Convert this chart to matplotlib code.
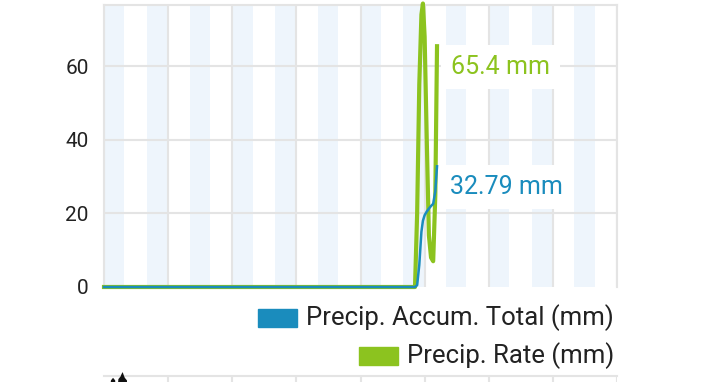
import matplotlib
matplotlib.use("Agg")
import matplotlib.pyplot as plt
from matplotlib.patches import Rectangle

plt.rcParams['font.family'] = ['Roboto', 'DejaVu Sans']

# ---- data (hours of day) ----
hours = [0, 14.5, 14.55, 14.65, 14.75, 14.85, 14.92, 15.0, 15.1, 15.2, 15.3, 15.4, 15.5, 15.58]
precip_rate = [0, 0, 0, 20, 55, 74, 77, 68, 40, 14, 8, 7, 25, 65.4]
precip_total = [0, 0, 0, 0.5, 6, 15, 18, 19.5, 20.5, 21.3, 22, 22.6, 26, 32.79]

y_ticks = [0, 20, 40, 60]
series_labels = ["Precip. Accum. Total (mm)", "Precip. Rate (mm)"]
end_labels = ["32.79 mm", "65.4 mm"]

# sliver of the next chart (only its top edge is visible)
next_hours = [0.2, 0.3, 0.4, 0.5, 0.55, 0.65, 0.75, 0.8, 0.85, 0.9, 0.95, 1.05, 1.1]
next_values = [0.0, 0.85, 0.95, 0.85, 0.0, 0.9, 1.0, 1.1, 1.17, 1.05, 0.95, 0.85, 0.0]

BLUE = "#1a8cbd"
GREEN = "#8cc31f"
GRID = "#e4e4e4"
BAND = "#eef5fc"

W, H = 720, 382
fig = plt.figure(figsize=(W / 100, H / 100), dpi=100)
fig.patch.set_facecolor("white")

ax = fig.add_axes([104 / W, (H - 287) / H, 513 / W, 282 / H])
ax.set_xlim(0, 24)
ax.set_ylim(0, 76.6)

for k in range(12):
    ax.axvspan(2 * k, 2 * k + 0.95, color=BAND, lw=0, zorder=0)
for xv in range(0, 25, 3):
    ax.axvline(xv, color=GRID, lw=1.5, zorder=1)
for yv in y_ticks[1:]:
    ax.axhline(yv, color=GRID, lw=1.5, zorder=1)

ax.plot(hours, precip_rate, color=GREEN, lw=3, zorder=3, clip_on=False,
        solid_joinstyle="round")
ax.plot(hours, precip_total, color=BLUE, lw=1.8, zorder=4, clip_on=False)

for s in ["top", "left", "right"]:
    ax.spines[s].set_color(GRID)
    ax.spines[s].set_linewidth(1.5)
ax.spines["bottom"].set_visible(False)

ax.set_xticks([])
ax.set_yticks(y_ticks)
ax.set_yticklabels([str(v) for v in y_ticks], fontsize=15, color="#222222")
ax.tick_params(axis="y", length=0, pad=11)

bbox = dict(boxstyle="square,pad=0.4", fc="white", ec="none")
ax.annotate(end_labels[1], (hours[-1], precip_rate[-1]), xytext=(14, -21),
            textcoords="offset pixels", color=GREEN, fontsize=18,
            va="center", ha="left", bbox=bbox, zorder=5)
ax.annotate(end_labels[0], (hours[-1], precip_total[-1]), xytext=(13, -21),
            textcoords="offset pixels", color=BLUE, fontsize=18,
            va="center", ha="left", bbox=bbox, zorder=5)

# ---- legend (right aligned, manual) ----
legend_rows = [(series_labels[0], BLUE, 318), (series_labels[1], GREEN, 356)]
for label, col, yc in legend_rows:
    t = fig.text(614 / W, 1 - yc / H, label, ha="right", va="center",
                 fontsize=18.5, color="#222222")
    fig.canvas.draw()
    bb = t.get_window_extent()
    x0 = bb.x0 - 9 - 39
    fig.patches.append(Rectangle((x0 / W, 1 - (yc + 9) / H), 39 / W, 18 / H,
                                 transform=fig.transFigure, color=col))

# ---- sliver of the next chart below ----
ax2 = fig.add_axes([104 / W, -20 / H, 513 / W, 26 / H])
ax2.set_xlim(0, 24)
ax2.set_ylim(0, 1)
for xv in range(3, 25, 3):
    ax2.axvline(xv, color=GRID, lw=1.5)
ax2.fill_between(next_hours, 0, next_values,
                 color="#111111", lw=0, clip_on=False, zorder=3)
for s in ["left", "right", "bottom"]:
    ax2.spines[s].set_visible(False)
ax2.spines["top"].set_color(GRID)
ax2.spines["top"].set_linewidth(1.5)
ax2.set_xticks([])
ax2.set_yticks([])

fig.savefig("out.png", dpi=100, facecolor="white")
